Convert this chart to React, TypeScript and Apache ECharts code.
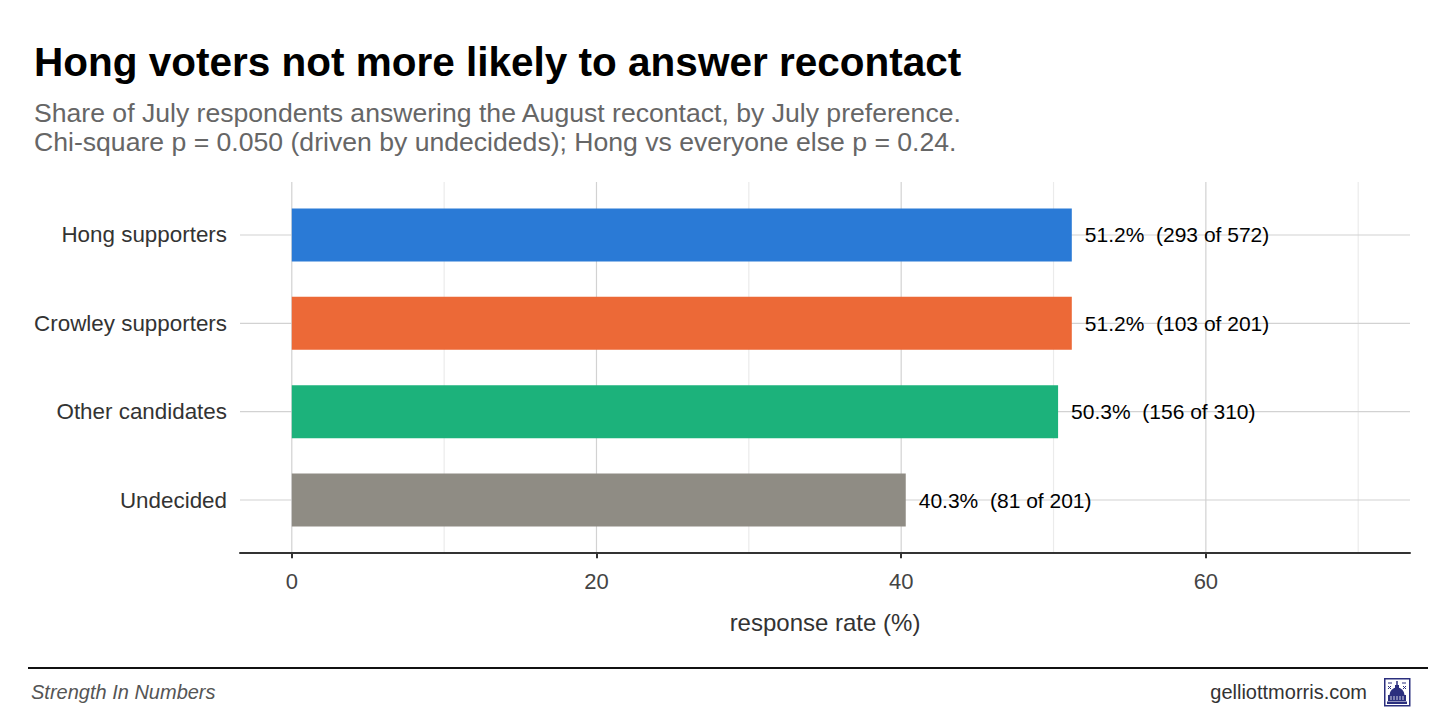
import React, { useEffect, useRef } from "react";
import * as echarts from "echarts";

const categories = ["Hong supporters", "Crowley supporters", "Other candidates", "Undecided"];
const rates = [51.2, 51.2, 50.3, 40.3];
const answered = [293, 103, 156, 81];
const totals = [572, 201, 310, 201];
const barColors = ["#2a7ad6", "#ec6937", "#1cb27b", "#8f8c84"];
const majorTicks = [0, 20, 40, 60];
const minorTicks = [10, 30, 50, 70];

const FONT = "'Liberation Sans', Arial, Helvetica, sans-serif";
const NAVY = "#2b2f7e";

export default function App() {
  const ref = useRef<HTMLDivElement>(null);

  useEffect(() => {
    if (!ref.current) return;
    const chart = echarts.init(ref.current, null, { renderer: "svg" });

    const option: any = {
      animation: false,
      backgroundColor: "#ffffff",
      textStyle: { fontFamily: FONT },
      title: {
        left: 34,
        top: 42,
        padding: 0,
        text: "Hong voters not more likely to answer recontact",
        textStyle: { fontSize: 40.5, fontWeight: "bold", color: "#000", lineHeight: 40, fontFamily: FONT },
        subtext:
          "Share of July respondents answering the August recontact, by July preference.\nChi-square p = 0.050 (driven by undecideds); Hong vs everyone else p = 0.24.",
        subtextStyle: { fontSize: 26.6, color: "#666", lineHeight: 29, fontFamily: FONT },
        itemGap: 15,
      },
      grid: { left: 240, right: 46, top: 190.83, bottom: 167.83, containLabel: false },
      xAxis: {
        type: "value",
        min: -3.4,
        max: 73.4,
        offset: 9,
        axisLine: { show: true, lineStyle: { color: "#333", width: 2 } },
        axisTick: { show: true, length: 5, customValues: majorTicks, lineStyle: { color: "#333", width: 2 } },
        axisLabel: { customValues: majorTicks, fontSize: 22, color: "#444", margin: 17, fontFamily: FONT },
        splitLine: { show: false },
        name: "response rate (%)",
        nameLocation: "middle",
        nameGap: 57,
        nameTextStyle: { fontSize: 24, color: "#333", fontFamily: FONT },
      },
      yAxis: {
        type: "category",
        data: categories,
        inverse: true,
        axisLine: { show: false },
        axisTick: { show: false },
        splitLine: { show: false },
        axisLabel: { fontSize: 22.4, color: "#333", margin: 13, fontFamily: FONT },
      },
      series: [
        {
          type: "custom",
          name: "vgrid",
          silent: true,
          clip: false,
          z: 0,
          data: majorTicks.concat(minorTicks).map((v) => [v, 0]),
          encode: { x: 0, y: 1 },
          renderItem: (params: any, api: any) => {
            const v = api.value(0);
            const p = api.coord([v, 0]);
            const cs = params.coordSys;
            const band = api.size([0, 1], [0, 0])[1];
            return {
              type: "line",
              shape: { x1: p[0], y1: cs.y - band * 0.1, x2: p[0], y2: cs.y + cs.height + band * 0.1 },
              style: { stroke: v % 20 === 0 ? "#d2d2d2" : "#ebebeb", lineWidth: 1.2 },
            };
          },
        },
        {
          type: "custom",
          name: "hgrid",
          silent: true,
          clip: false,
          z: 0,
          data: categories.map((c, i) => [0, i]),
          encode: { x: 0, y: 1 },
          renderItem: (params: any, api: any) => {
            const p = api.coord([0, api.value(1)]);
            const cs = params.coordSys;
            return {
              type: "line",
              shape: { x1: cs.x, y1: p[1], x2: cs.x + cs.width, y2: p[1] },
              style: { stroke: "#d2d2d2", lineWidth: 1.2 },
            };
          },
        },
        {
          type: "bar",
          name: "response rate",
          z: 2,
          barWidth: "60%",
          data: rates.map((v, i) => ({ value: v, itemStyle: { color: barColors[i] } })),
          label: {
            show: true,
            position: "right",
            distance: 13,
            fontSize: 21,
            color: "#000",
            fontFamily: FONT,
            formatter: (p: any) =>
              `${rates[p.dataIndex].toFixed(1)}%  (${answered[p.dataIndex]} of ${totals[p.dataIndex]})`,
          },
        },
      ],
      graphic: [
        {
          type: "line",
          shape: { x1: 28, y1: 668, x2: 1428, y2: 668 },
          style: { stroke: "#111", lineWidth: 2 },
        },
        {
          type: "text",
          x: 31,
          y: 692,
          style: {
            text: "Strength In Numbers",
            fontSize: 20,
            fontStyle: "italic",
            fill: "#555",
            fontFamily: FONT,
            verticalAlign: "middle",
            align: "left",
          },
        },
        {
          type: "text",
          x: 1367,
          y: 692,
          style: {
            text: "gelliottmorris.com",
            fontSize: 20,
            fill: "#333",
            fontFamily: FONT,
            verticalAlign: "middle",
            align: "right",
          },
        },
        {
          type: "group",
          x: 1384,
          y: 678,
          children: [
            { type: "rect", shape: { x: 0.75, y: 0.75, width: 25, height: 27 }, style: { fill: "#fff", stroke: NAVY, lineWidth: 1.5 } },
            { type: "line", shape: { x1: 13, y1: 3, x2: 13, y2: 8 }, style: { stroke: NAVY, lineWidth: 1.5 } },
            { type: "rect", shape: { x: 11, y: 7, width: 4, height: 4 }, style: { fill: NAVY } },
            { type: "sector", shape: { cx: 13, cy: 17, r0: 0, r: 7.5, startAngle: Math.PI, endAngle: Math.PI * 2 }, style: { fill: NAVY } },
            { type: "rect", shape: { x: 4, y: 17, width: 18, height: 6 }, style: { fill: NAVY } },
            { type: "line", shape: { x1: 7, y1: 18, x2: 7, y2: 22 }, style: { stroke: "#fff", lineWidth: 0.8 } },
            { type: "line", shape: { x1: 10, y1: 18, x2: 10, y2: 22 }, style: { stroke: "#fff", lineWidth: 0.8 } },
            { type: "line", shape: { x1: 13, y1: 18, x2: 13, y2: 22 }, style: { stroke: "#fff", lineWidth: 0.8 } },
            { type: "line", shape: { x1: 16, y1: 18, x2: 16, y2: 22 }, style: { stroke: "#fff", lineWidth: 0.8 } },
            { type: "line", shape: { x1: 19, y1: 18, x2: 19, y2: 22 }, style: { stroke: "#fff", lineWidth: 0.8 } },
            { type: "rect", shape: { x: 3, y: 23.5, width: 20, height: 2.5 }, style: { fill: NAVY } },
            { type: "line", shape: { x1: 4, y1: 5, x2: 8, y2: 5 }, style: { stroke: NAVY, lineWidth: 1 } },
            { type: "line", shape: { x1: 18, y1: 5, x2: 22, y2: 5 }, style: { stroke: NAVY, lineWidth: 1 } },
            { type: "line", shape: { x1: 4, y1: 8, x2: 7, y2: 11 }, style: { stroke: NAVY, lineWidth: 1 } },
            { type: "line", shape: { x1: 7, y1: 8, x2: 4, y2: 11 }, style: { stroke: NAVY, lineWidth: 1 } },
            { type: "line", shape: { x1: 19, y1: 8, x2: 22, y2: 11 }, style: { stroke: NAVY, lineWidth: 1 } },
            { type: "line", shape: { x1: 22, y1: 8, x2: 19, y2: 11 }, style: { stroke: NAVY, lineWidth: 1 } },
          ],
        },
      ],
    };

    chart.setOption(option);
    return () => chart.dispose();
  }, []);

  return (
    <div
      ref={ref}
      style={{ position: "fixed", left: 0, top: 0, width: 1456, height: 712, background: "#fff" }}
    />
  );
}
